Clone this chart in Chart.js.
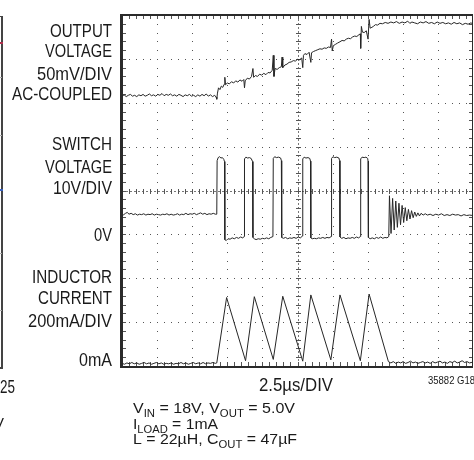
<!DOCTYPE html>
<html>
<head>
<meta charset="utf-8">
<script src="https://cdn.jsdelivr.net/npm/chart.js@4.4.0/dist/chart.umd.min.js"></script>
<style>
  html, body { margin: 0; padding: 0; background: #fff; }
  canvas { display: block; }
</style>
</head>
<body>
<canvas id="scope" width="474" height="460"></canvas>
<script>
// x in divisions (2.5us/div, 10 div), y in divisions (8 div, bottom = 0)
const outputVoltage = [
  [0,6.15],[0.06,6.18],[0.12,6.14],[0.18,6.17],[0.24,6.19],[0.3,6.15],[0.36,6.17],[0.42,6.14],[0.48,6.18],[0.54,6.16],
  [0.6,6.19],[0.66,6.15],[0.72,6.17],[0.78,6.2],[0.84,6.16],[0.9,6.18],[0.96,6.15],[1.02,6.19],[1.08,6.17],[1.14,6.21],
  [1.2,6.16],[1.26,6.19],[1.32,6.17],[1.38,6.2],[1.44,6.16],[1.5,6.18],[1.56,6.15],[1.62,6.19],[1.68,6.17],[1.74,6.14],
  [1.8,6.18],[1.86,6.16],[1.92,6.19],[1.98,6.15],[2.04,6.17],[2.1,6.14],[2.16,6.18],[2.22,6.15],[2.28,6.19],[2.34,6.16],
  [2.4,6.2],[2.46,6.15],[2.52,6.18],[2.58,6.14],[2.64,6.17],[2.68,6.13],[2.7,6.08],[2.72,6.22],[2.75,6.34],[2.79,6.3],
  [2.83,6.38],[2.87,6.35],[2.91,6.42],[2.93,6.58],[2.95,6.41],[3.0,6.45],[3.06,6.43],[3.12,6.48],[3.18,6.45],[3.24,6.5],
  [3.3,6.47],[3.36,6.52],[3.42,6.49],[3.47,6.53],[3.49,6.34],[3.51,6.5],[3.57,6.56],[3.63,6.54],[3.69,6.6],[3.73,6.78],
  [3.75,6.58],[3.8,6.62],[3.86,6.6],[3.92,6.65],[3.98,6.63],[4.04,6.67],[4.1,6.64],[4.16,6.69],[4.22,6.68],[4.28,6.74],
  [4.31,7.08],[4.33,6.6],[4.36,6.78],[4.42,6.76],[4.48,6.8],[4.54,6.82],[4.56,7.04],[4.58,6.8],[4.64,6.86],[4.7,6.88],
  [4.76,6.92],[4.82,6.93],[4.88,6.96],[4.94,6.95],[5.0,6.99],[5.06,6.98],[5.12,7.02],[5.15,6.8],[5.17,7.08],[5.21,7.12],
  [5.27,7.1],[5.33,7.15],[5.38,6.92],[5.4,7.14],[5.46,7.17],[5.52,7.19],[5.58,7.21],[5.64,7.23],[5.7,7.22],[5.76,7.25],
  [5.82,7.24],[5.88,7.27],[5.94,7.26],[5.97,7.45],[5.99,7.18],[6.02,7.3],[6.08,7.33],[6.14,7.36],[6.21,7.39],[6.27,7.42],
  [6.33,7.41],[6.39,7.45],[6.45,7.47],[6.51,7.46],[6.57,7.5],[6.63,7.52],[6.69,7.51],[6.75,7.55],[6.79,7.57],[6.8,7.24],
  [6.82,7.74],[6.85,7.61],[6.9,7.6],[6.96,7.64],[7.01,7.45],[7.04,7.9],[7.07,7.7],[7.12,7.72],[7.16,7.74],[7.22,7.78],
  [7.28,7.77],[7.35,7.81],[7.42,7.8],[7.5,7.83],[7.58,7.81],[7.66,7.84],[7.74,7.82],[7.82,7.85],[7.9,7.81],[7.98,7.84],
  [8.06,7.82],[8.14,7.86],[8.2,7.81],[8.26,7.84],[8.34,7.82],[8.42,7.8],[8.5,7.84],[8.58,7.82],[8.66,7.85],[8.74,7.81],
  [8.82,7.83],[8.9,7.8],[8.98,7.84],[9.06,7.81],[9.14,7.83],[9.22,7.8],[9.3,7.82],[9.38,7.79],[9.46,7.83],[9.54,7.8],
  [9.62,7.82],[9.7,7.78],[9.78,7.81],[9.86,7.79],[9.94,7.82],[10,7.8]
];

const switchVoltage = [
  [0,3.42],[0.05,3.45],[0.1,3.48],[0.15,3.5],[0.2,3.46],[0.26,3.48],[0.32,3.45],[0.38,3.47],[0.44,3.44],[0.5,3.46],
  [0.56,3.45],[0.62,3.47],[0.68,3.44],[0.74,3.46],[0.8,3.45],[0.86,3.47],[0.92,3.44],[0.98,3.46],[1.04,3.45],[1.1,3.44],
  [1.16,3.46],[1.22,3.45],[1.28,3.47],[1.34,3.44],[1.4,3.46],[1.46,3.44],[1.52,3.45],[1.58,3.47],[1.64,3.44],[1.7,3.46],
  [1.76,3.45],[1.82,3.48],[1.88,3.45],[1.94,3.47],[2.0,3.46],[2.06,3.48],[2.12,3.45],[2.18,3.47],[2.24,3.49],[2.3,3.46],
  [2.36,3.48],[2.42,3.45],[2.48,3.47],[2.54,3.46],[2.6,3.48],[2.66,3.46],[2.7,3.46],
  [2.71,4.68],[2.74,4.75],[2.78,4.77],[2.82,4.74],[2.86,4.75],[2.9,4.71],[2.92,4.66],[2.93,2.88],[2.97,2.86],[3.02,2.9],
  [3.08,2.89],[3.14,2.92],[3.2,2.9],[3.26,2.93],[3.32,2.91],[3.38,2.94],[3.44,2.92],[3.48,2.95],
  [3.49,4.72],[3.53,4.76],[3.58,4.74],[3.63,4.75],[3.68,4.73],[3.72,4.66],[3.73,2.93],[3.77,2.9],[3.82,2.88],[3.88,2.9],
  [3.94,2.89],[4.0,2.91],[4.06,2.9],[4.12,2.92],[4.18,2.9],[4.24,2.93],[4.3,2.95],
  [4.31,4.73],[4.35,4.77],[4.4,4.75],[4.46,4.76],[4.52,4.74],[4.54,4.68],[4.55,2.93],[4.6,2.91],[4.66,2.93],[4.72,2.9],
  [4.78,2.92],[4.84,2.91],[4.9,2.93],[4.96,2.91],[5.02,2.94],[5.08,2.92],[5.14,2.96],
  [5.15,4.72],[5.19,4.76],[5.24,4.74],[5.3,4.75],[5.35,4.73],[5.37,4.67],[5.38,2.92],[5.42,2.9],[5.48,2.91],[5.54,2.9],
  [5.6,2.92],[5.66,2.91],[5.72,2.93],[5.78,2.91],[5.84,2.93],[5.9,2.92],[5.96,2.95],
  [5.97,4.73],[6.01,4.77],[6.06,4.75],[6.12,4.76],[6.18,4.74],[6.2,4.68],[6.21,2.94],[6.26,2.91],[6.32,2.93],[6.38,2.9],
  [6.44,2.92],[6.5,2.91],[6.56,2.93],[6.62,2.91],[6.68,2.94],[6.74,2.92],[6.79,2.95],
  [6.8,4.72],[6.84,4.76],[6.9,4.75],[6.95,4.76],[7.0,4.73],[7.01,4.67],[7.02,2.93],[7.07,2.9],[7.13,2.92],[7.19,2.9],
  [7.25,2.93],[7.31,2.91],[7.37,2.94],[7.43,2.91],[7.49,2.93],[7.55,2.92],[7.6,2.95],
  [7.62,3.88],[7.665,3.02],[7.71,3.82],[7.755,3.1],[7.8,3.76],[7.845,3.16],[7.89,3.71],[7.935,3.22],[7.98,3.66],[8.025,3.27],
  [8.07,3.61],[8.115,3.31],[8.16,3.57],[8.205,3.35],[8.25,3.54],[8.295,3.38],[8.34,3.51],[8.385,3.41],[8.43,3.49],[8.475,3.42],
  [8.52,3.48],[8.58,3.44],[8.64,3.47],[8.7,3.44],[8.78,3.46],[8.86,3.43],[8.94,3.46],[9.02,3.44],[9.1,3.47],[9.18,3.43],
  [9.26,3.45],[9.34,3.43],[9.42,3.46],[9.5,3.44],[9.58,3.45],[9.66,3.42],[9.74,3.45],[9.82,3.43],[9.9,3.44],[10,3.43]
];

const inductorCurrent = [
  [0,0.06],[0.07,0.04],[0.14,0.07],[0.21,0.05],[0.28,0.08],[0.35,0.05],[0.42,0.07],[0.49,0.04],[0.56,0.06],[0.63,0.08],
  [0.7,0.05],[0.77,0.07],[0.84,0.04],[0.91,0.06],[0.98,0.08],[1.05,0.05],[1.12,0.07],[1.19,0.04],[1.26,0.06],[1.33,0.05],
  [1.4,0.07],[1.47,0.04],[1.54,0.06],[1.61,0.05],[1.68,0.08],[1.75,0.05],[1.82,0.07],[1.89,0.04],[1.96,0.06],[2.03,0.08],
  [2.1,0.05],[2.17,0.07],[2.24,0.05],[2.31,0.08],[2.38,0.05],[2.45,0.07],[2.52,0.06],[2.59,0.08],[2.66,0.06],[2.7,0.07],
  [2.98,1.56],[3.52,0.12],[3.77,1.58],[4.31,0.15],[4.58,1.59],[5.15,0.11],[5.38,1.62],[5.95,0.14],[6.21,1.62],[6.79,0.12],
  [7.04,1.64],[7.59,0.1],
  [7.66,0.07],[7.73,0.1],[7.8,0.06],[7.87,0.09],[7.94,0.07],[8.01,0.1],[8.08,0.06],[8.15,0.08],[8.22,0.11],[8.29,0.07],
  [8.36,0.09],[8.43,0.06],[8.5,0.08],[8.57,0.1],[8.64,0.07],[8.71,0.09],[8.78,0.06],[8.85,0.1],[8.92,0.07],[8.99,0.09],
  [9.06,0.11],[9.13,0.07],[9.2,0.09],[9.27,0.06],[9.34,0.1],[9.41,0.08],[9.48,0.11],[9.55,0.07],[9.62,0.09],[9.69,0.12],
  [9.76,0.08],[9.83,0.1],[9.9,0.07],[10,0.09]
];

const toXY = pts => pts.map(([x, y]) => ({ x, y }));
const FONT = '"Liberation Sans", Arial, sans-serif';

// text squeezed horizontally to a target width (condensed datasheet face)
function squeezed(ctx, parts, x, y, width, align) {
  let natural = 0;
  parts.forEach(p => {
    ctx.font = p.size + 'px ' + FONT;
    natural += ctx.measureText(p.t).width;
  });
  const s = width / natural;
  let left = align === 'right' ? x - width : align === 'center' ? x - width / 2 : x;
  ctx.save();
  ctx.translate(left, y);
  ctx.scale(s, 1);
  ctx.textAlign = 'left';
  ctx.textBaseline = 'alphabetic';
  ctx.fillStyle = '#1a1a1a';
  let cx = 0;
  parts.forEach(p => {
    ctx.font = p.size + 'px ' + FONT;
    ctx.fillText(p.t, cx, p.dy || 0);
    cx += ctx.measureText(p.t).width;
  });
  ctx.restore();
}
const big = t => ({ t, size: 17.5 });
const med = t => ({ t, size: 15.5 });
const sub = t => ({ t, size: 11, dy: 3.5 });

const graticule = {
  id: 'graticule',
  beforeDatasetsDraw(chart) {
    const { ctx, chartArea: a, scales: { x, y } } = chart;
    ctx.save();
    ctx.fillStyle = '#555';
    for (let i = 1; i < 10; i++) {
      if (i === 5) continue;
      const px = Math.round(x.getPixelForValue(i));
      for (let k = 1; k < 40; k++) ctx.fillRect(px, Math.round(y.getPixelForValue(k / 5)), 1, 1);
    }
    for (let j = 1; j < 8; j++) {
      if (j === 4) continue;
      const py = Math.round(y.getPixelForValue(j));
      for (let k = 1; k < 50; k++) ctx.fillRect(Math.round(x.getPixelForValue(k / 5)), py, 1, 1);
    }
    // centre lines with minor ticks
    const cx = Math.round(x.getPixelForValue(5)) + 0.5;
    const cy = Math.round(y.getPixelForValue(4)) + 0.5;
    ctx.strokeStyle = '#777';
    ctx.lineWidth = 1;
    ctx.setLineDash([2, 2]);
    ctx.beginPath();
    ctx.moveTo(cx, a.top); ctx.lineTo(cx, a.bottom);
    ctx.moveTo(a.left, cy); ctx.lineTo(a.right, cy);
    ctx.stroke();
    ctx.setLineDash([]);
    ctx.strokeStyle = '#555';
    ctx.beginPath();
    for (let k = 1; k < 40; k++) {
      const py = Math.round(y.getPixelForValue(k / 5)) + 0.5;
      ctx.moveTo(cx - 2.5, py); ctx.lineTo(cx + 2.5, py);
      ctx.moveTo(a.left, py); ctx.lineTo(a.left + 4, py);
      ctx.moveTo(a.right, py); ctx.lineTo(a.right - 4, py);
    }
    for (let k = 1; k < 50; k++) {
      const px = Math.round(x.getPixelForValue(k / 5)) + 0.5;
      ctx.moveTo(px, cy - 2.5); ctx.lineTo(px, cy + 2.5);
      ctx.moveTo(px, a.top); ctx.lineTo(px, a.top + 4);
      ctx.moveTo(px, a.bottom); ctx.lineTo(px, a.bottom - 4);
    }
    ctx.stroke();
    // frame
    ctx.fillStyle = '#2a2a2a';
    ctx.fillRect(a.left - 2, a.top - 1, 3, a.bottom - a.top + 2);
    ctx.fillRect(a.left - 2, a.top - 1, a.right - a.left + 2, 2);
    ctx.fillRect(a.left - 2, a.bottom, a.right - a.left + 2, 2);
    ctx.fillRect(a.right - 1, a.top - 1, 1, a.bottom - a.top + 2);
    ctx.restore();
  },
  afterDraw(chart) {
    const { ctx } = chart;
    // left-side channel labels
    squeezed(ctx, [big('OUTPUT')], 112, 37, 62, 'right');
    squeezed(ctx, [big('VOLTAGE')], 112, 57, 67, 'right');
    squeezed(ctx, [big('50mV/DIV')], 112, 80, 75, 'right');
    squeezed(ctx, [big('AC-COUPLED')], 112, 100, 100, 'right');
    squeezed(ctx, [big('SWITCH')], 112, 150, 60, 'right');
    squeezed(ctx, [big('VOLTAGE')], 112, 173, 67, 'right');
    squeezed(ctx, [big('10V/DIV')], 112, 194, 59, 'right');
    squeezed(ctx, [big('0V')], 112, 241, 18, 'right');
    squeezed(ctx, [big('INDUCTOR')], 112, 283, 80, 'right');
    squeezed(ctx, [big('CURRENT')], 112, 304, 74, 'right');
    squeezed(ctx, [big('200mA/DIV')], 112, 327, 84, 'right');
    squeezed(ctx, [big('0mA')], 112, 366, 33, 'right');
    // time base and notes
    squeezed(ctx, [big('2.5µs/DIV')], 296, 391, 74, 'center');
    squeezed(ctx, [{ t: '35882 G18', size: 11 }], 428, 384, 47, 'left');
    squeezed(ctx, [med('V'), sub('IN'), med(' = 18V, V'), sub('OUT'), med(' = 5.0V')], 133, 413, 162, 'left');
    squeezed(ctx, [med('I'), sub('LOAD'), med(' = 1mA')], 133, 429, 85, 'left');
    squeezed(ctx, [med('L = 22µH, C'), sub('OUT'), med(' = 47µF')], 133, 444, 164, 'left');
    // edge of the neighbouring figure
    ctx.save();
    ctx.fillStyle = '#444';
    ctx.fillRect(1, 16, 2, 353);
    ctx.fillRect(0, 16, 3, 1);
    ctx.fillRect(0, 367, 3, 2);
    ctx.fillStyle = '#aaa';
    [77, 135, 253, 310].forEach(v => ctx.fillRect(0, v, 2, 1));
    ctx.fillStyle = '#b0304e';
    ctx.fillRect(0, 42, 3, 2);
    ctx.fillStyle = '#3a62c0';
    ctx.fillRect(0, 189, 3, 2);
    ctx.restore();
    squeezed(ctx, [big('25')], 0, 393, 15, 'left');
    squeezed(ctx, [med('V')], -6, 428, 10, 'left');
  }
};

const trace = (label, pts) => ({
  label,
  data: toXY(pts),
  borderColor: '#262626',
  borderWidth: 1,
  pointRadius: 0,
  tension: 0,
  fill: false
});

new Chart(document.getElementById('scope'), {
  type: 'line',
  data: {
    datasets: [
      trace('Output voltage', outputVoltage),
      trace('Switch voltage', switchVoltage),
      trace('Inductor current', inductorCurrent)
    ]
  },
  options: {
    responsive: false,
    animation: false,
    layout: { padding: { left: 122, top: 15, right: 1, bottom: 94 } },
    plugins: { legend: { display: false }, tooltip: { enabled: false } },
    scales: {
      x: { type: 'linear', min: 0, max: 10, display: false },
      y: { type: 'linear', min: 0, max: 8, display: false }
    }
  },
  plugins: [graticule]
});
</script>
</body>
</html>
